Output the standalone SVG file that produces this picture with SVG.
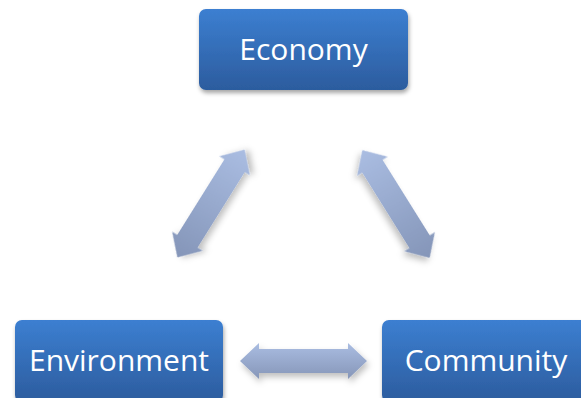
<svg xmlns="http://www.w3.org/2000/svg" width="581" height="398" viewBox="0 0 581 398">
<defs>
<style>
.box{fill:url(#boxGrad);filter:url(#shadow)}
.lbl{font-family:"Open Sans","Noto Sans",sans-serif;font-size:30px;fill:#ffffff;text-anchor:middle}
.arr{filter:url(#ashadow)}
</style>
<linearGradient id="boxGrad" x1="0" y1="0" x2="0" y2="1">
<stop offset="0" stop-color="#3c7fd1"/>
<stop offset="1" stop-color="#2c5c9e"/>
</linearGradient>
<linearGradient id="hGrad" x1="0" y1="0" x2="0" y2="1">
<stop offset="0" stop-color="#aabde2"/>
<stop offset="1" stop-color="#8696b8"/>
</linearGradient>
<linearGradient id="dGradL" gradientUnits="userSpaceOnUse" x1="-64" y1="0" x2="64" y2="0">
<stop offset="0" stop-color="#8495b8"/>
<stop offset="1" stop-color="#aabde2"/>
</linearGradient>
<linearGradient id="dGradR" gradientUnits="userSpaceOnUse" x1="-64" y1="0" x2="64" y2="0">
<stop offset="0" stop-color="#aabde2"/>
<stop offset="1" stop-color="#8495b8"/>
</linearGradient>
<filter id="shadow" x="-10%" y="-10%" width="125%" height="130%">
<feDropShadow dx="1" dy="3" stdDeviation="2" flood-color="#000" flood-opacity="0.35"/>
</filter>
<filter id="ashadow" x="-20%" y="-30%" width="150%" height="170%">
<feDropShadow dx="2" dy="4" stdDeviation="3" flood-color="#000" flood-opacity="0.25"/>
</filter>
<polygon id="dbl" points="-63.5,0 -44.5,-18 -44.5,-12 44.5,-12 44.5,-18 63.5,0 44.5,18 44.5,12 -44.5,12 -44.5,18"/>
</defs>
<rect width="581" height="398" fill="#ffffff"/>
<g id="connectors">
<g class="arr" transform="translate(211,203.5) rotate(-58)"><use href="#dbl" fill="url(#dGradL)"/></g>
<g class="arr" transform="translate(396,204) rotate(58)"><use href="#dbl" fill="url(#dGradR)"/></g>
<g class="arr" transform="translate(303.5,361)"><use href="#dbl" fill="url(#hGrad)"/></g>
</g>
<g id="economy">
<rect class="box" x="199" y="9" width="209" height="81" rx="7"/>
<text class="lbl" x="303.5" y="60">Economy</text>
</g>
<g id="environment">
<rect class="box" x="15" y="320" width="208" height="82" rx="7"/>
<text class="lbl" x="119" y="371">Environment</text>
</g>
<g id="community">
<rect class="box" x="382" y="320" width="208" height="82" rx="7"/>
<text class="lbl" x="486" y="371">Community</text>
</g>
</svg>
